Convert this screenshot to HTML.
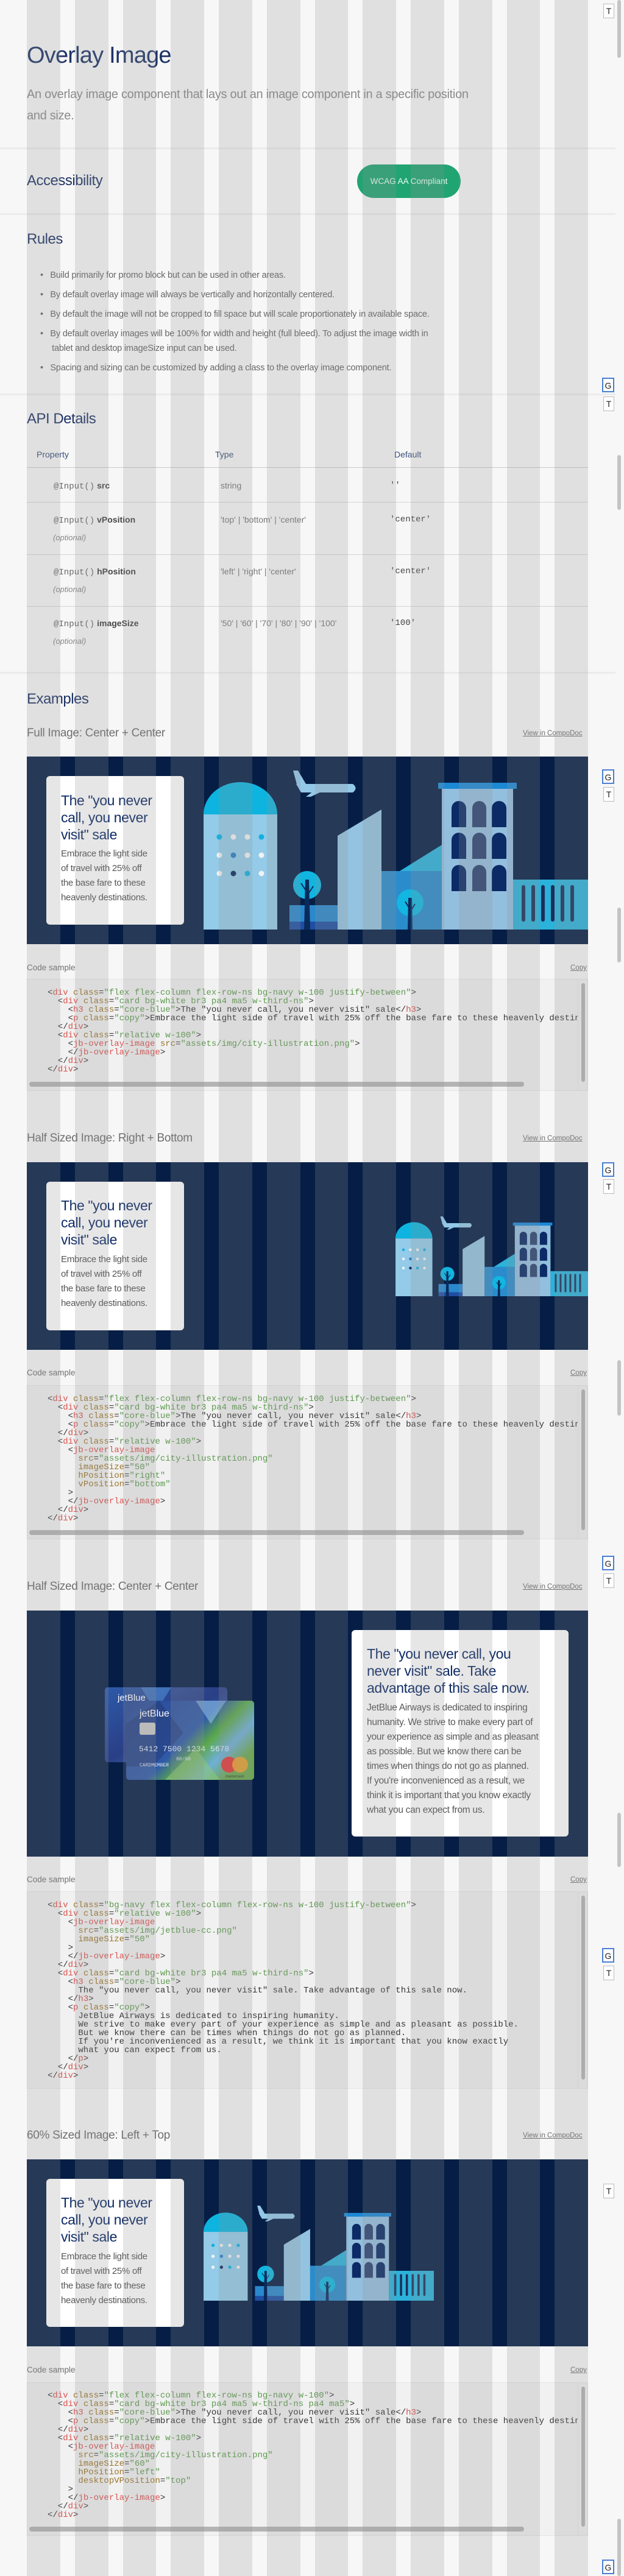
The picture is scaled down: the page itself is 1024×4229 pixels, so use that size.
<!DOCTYPE html>
<html><head><meta charset="utf-8"><style>
*{margin:0;padding:0;box-sizing:border-box}
body{width:1024px;height:4229px;background:#f7f7f7;position:relative;overflow:hidden;font-family:"Liberation Sans",sans-serif}
.a{position:absolute;white-space:nowrap}
.hr{position:absolute;left:0;width:1010px;height:3px;background:#ececec}
.sec{font-size:24px;color:#1d3366;line-height:30px;letter-spacing:-0.5px}
.ex{font-size:19px;color:#6e6e6e;line-height:26px;letter-spacing:-0.3px}
.link{font-size:11.5px;color:#6e6e6e;text-decoration:underline;line-height:18px}
.lbl{font-size:13.5px;color:#707070;line-height:18px}
.banner{position:absolute;left:44px;width:921px;background:#061e45}
.card{position:absolute;background:#fff;border-radius:6px}
.ch{position:absolute;font-size:23px;line-height:28px;color:#0d2a66;white-space:nowrap;letter-spacing:-0.4px}
.cp{position:absolute;font-size:15px;line-height:24px;color:#555;white-space:nowrap;letter-spacing:-0.3px}
.code{position:absolute;left:44px;width:921px;background:#f1f1f1;border:1px solid #e4e4e4;overflow:hidden}
.code pre{font-family:"Liberation Mono",monospace;font-size:14px;line-height:14px;color:#333;padding:15px 0 0 33px;width:904px;overflow:hidden;white-space:pre}
.code b{color:#d9534f;font-weight:normal}.code i{color:#9b7427;font-style:normal}.code u{color:#5d9a4e;text-decoration:none}
.vs{position:absolute;right:0;top:0;width:16px;bottom:0;background:#f1f1f1;border-left:1px solid #e4e4e4}
.vs:after{content:"";position:absolute;left:5px;top:6px;bottom:14px;width:6px;border-radius:3px;background:#b4b4b4}
.hs{position:absolute;left:3px;bottom:6px;width:812px;height:8px;border-radius:4px;background:#b4b4b4}
table{border-collapse:collapse}
.cols{position:absolute;top:0;left:44px;width:921px;height:4229px;display:flex;gap:24px;pointer-events:none;z-index:50}
.cols div{flex:1;background:rgba(146,146,146,0.23)}
.btn{position:absolute;left:990px;width:18px;height:24px;background:#fff;border:1px solid #bbb;font-size:14px;line-height:22px;text-align:center;color:#222}
.btn.g{border:2px solid #4a7fd4;left:988px;width:20px}
.thumb{position:absolute;left:1013px;width:6px;border-radius:3px;background:#c4c4c4}
.m{font-family:"Liberation Mono",monospace;color:#666}
</style></head><body>

<div class="cols"><div></div><div></div><div></div><div></div><div></div><div></div><div></div><div></div><div></div><div></div><div></div><div></div></div>

<div class="a" style="left:44px;top:68px;font-size:38px;line-height:46px;color:#1d3366;letter-spacing:-0.8px">Overlay Image</div>
<div class="a" style="left:44px;top:138px;font-size:20px;line-height:35px;color:#8a8a8a;letter-spacing:-0.3px">An overlay image component that lays out an image component in a specific position<br>and size.</div>
<div class="hr" style="top:242px"></div>
<div class="a sec" style="left:44px;top:282px">Accessibility</div>
<div class="a" style="left:586px;top:270px;width:170px;height:55px;border-radius:28px;background:#20a472;color:#e8fff4;font-size:13.5px;line-height:55px;text-align:center">WCAG AA Compliant</div>
<div class="hr" style="top:350px"></div>
<div class="a sec" style="left:44px;top:378px">Rules</div>
<div class="a" style="left:66px;top:440px;font-size:14.5px;line-height:24px;color:#666;letter-spacing:-0.2px">
<div style="margin-bottom:8px">•&nbsp;&nbsp;&nbsp;Build primarily for promo block but can be used in other areas.</div>
<div style="margin-bottom:8px">•&nbsp;&nbsp;&nbsp;By default overlay image will always be vertically and horizontally centered.</div>
<div style="margin-bottom:8px">•&nbsp;&nbsp;&nbsp;By default the image will not be cropped to fill space but will scale proportionately in available space.</div>
<div style="margin-bottom:8px">•&nbsp;&nbsp;&nbsp;By default overlay images will be 100% for width and height (full bleed). To adjust the image width in<br>&nbsp;&nbsp;&nbsp;&nbsp;&nbsp;tablet and desktop imageSize input can be used.</div>
<div>•&nbsp;&nbsp;&nbsp;Spacing and sizing can be customized by adding a class to the overlay image component.</div>
</div>
<div class="hr" style="top:646px"></div>
<div class="a sec" style="left:44px;top:673px">API Details</div>

<div class="a" style="left:60px;top:736px;font-size:14px;line-height:20px;color:#3a4f7a">Property</div>
<div class="a" style="left:353px;top:736px;font-size:14px;line-height:20px;color:#3a4f7a">Type</div>
<div class="a" style="left:647px;top:736px;font-size:14px;line-height:20px;color:#3a4f7a">Default</div>
<div class="a" style="left:44px;top:767px;width:921px;height:1px;background:#c8c8c8"></div>
<div class="a" style="left:44px;top:824px;width:921px;height:1px;background:#d4d4d4"></div>
<div class="a" style="left:44px;top:910px;width:921px;height:1px;background:#d4d4d4"></div>
<div class="a" style="left:44px;top:995px;width:921px;height:1px;background:#d4d4d4"></div>

<div class="a" style="left:88px;top:787px;font-size:14px;line-height:20px;color:#444"><span class="m">@Input()</span> <b>src</b></div>
<div class="a" style="left:362px;top:787px;font-size:14px;line-height:20px;color:#777">string</div>
<div class="a m" style="left:640px;top:787px;font-size:14px;line-height:20px;color:#444">''</div>

<div class="a" style="left:88px;top:843px;font-size:14px;line-height:20px;color:#444"><span class="m">@Input()</span> <b>vPosition</b></div>
<div class="a" style="left:87px;top:873px;font-size:13px;line-height:20px;color:#888;font-style:italic">(optional)</div>
<div class="a" style="left:362px;top:843px;font-size:14px;line-height:20px;color:#777">'top' | 'bottom' | 'center'</div>
<div class="a m" style="left:640px;top:843px;font-size:14px;line-height:20px;color:#444">'center'</div>

<div class="a" style="left:88px;top:928px;font-size:14px;line-height:20px;color:#444"><span class="m">@Input()</span> <b>hPosition</b></div>
<div class="a" style="left:87px;top:958px;font-size:13px;line-height:20px;color:#888;font-style:italic">(optional)</div>
<div class="a" style="left:362px;top:928px;font-size:14px;line-height:20px;color:#777">'left' | 'right' | 'center'</div>
<div class="a m" style="left:640px;top:928px;font-size:14px;line-height:20px;color:#444">'center'</div>

<div class="a" style="left:88px;top:1013px;font-size:14px;line-height:20px;color:#444"><span class="m">@Input()</span> <b>imageSize</b></div>
<div class="a" style="left:87px;top:1043px;font-size:13px;line-height:20px;color:#888;font-style:italic">(optional)</div>
<div class="a" style="left:362px;top:1013px;font-size:14px;line-height:20px;color:#777">'50' | '60' | '70' | '80' | '90' | '100'</div>
<div class="a m" style="left:640px;top:1013px;font-size:14px;line-height:20px;color:#444">'100'</div>

<div class="hr" style="top:1103px"></div>
<div class="a sec" style="left:44px;top:1133px">Examples</div>

<!-- Example 1 -->
<div class="a ex" style="left:44px;top:1191px">Full Image: Center + Center</div>
<div class="a link" style="left:858px;top:1195px">View in CompoDoc</div>
<div class="banner" style="top:1242px;height:308px"></div>
<div class="card" style="left:76px;top:1274px;width:226px;height:244px"></div>
<div class="ch" style="left:100px;top:1300px">The "you never<br>call, you never<br>visit" sale</div>
<div class="cp" style="left:100px;top:1390px">Embrace the light side<br>of travel with 25% off<br>the base fare to these<br>heavenly destinations.</div>
<svg class="a" style="left:334px;top:1265px" width="631" height="261" viewBox="0 0 631 261" preserveAspectRatio="none">
<g id="city">
<path d="M0 72 A60.5 53 0 0 1 121 72 Z" fill="#0db4df"/>
<rect x="0" y="72" width="121" height="189" fill="#93cbe8"/>
<g fill="#f2f2f2"><circle cx="49" cy="109" r="4.5"/><circle cx="72" cy="109" r="4.5"/><circle cx="26" cy="139" r="4.5"/><circle cx="72" cy="139" r="4.5"/><circle cx="95" cy="139" r="4.5"/><circle cx="26" cy="169" r="4.5"/><circle cx="95" cy="169" r="4.5"/></g>
<g fill="#10b0e0"><circle cx="26" cy="109" r="4.5"/><circle cx="95" cy="109" r="4.5"/><circle cx="72" cy="169" r="4.5"/></g>
<circle cx="49" cy="139" r="4.5" fill="#2a7fc4"/><circle cx="49" cy="169" r="4.5" fill="#0e2a60"/>
<path d="M152 22 L245 22 Q254 29 245 36 L160 36 Z" fill="#93c8e8"/>
<path d="M147 0 L155 0 L168 22 L154 26 Z" fill="#93c8e8"/>
<path d="M180 34 L195 34 L176 43 L168 43 Z" fill="#93c8e8"/>
<rect x="141" y="221" width="79" height="40" fill="#2a88cc"/>
<rect x="141" y="248" width="79" height="13" fill="#1f4ea2"/>
<circle cx="170" cy="188" r="23" fill="#10b5e0"/>
<path d="M168 180 L172 180 L174 261 L166 261 Z M170 200 L160 185 M170 205 L180 190" stroke="#0a2a5c" stroke-width="2" fill="#0a2a5c"/>
<polygon points="220,107 292,64 292,261 220,261" fill="#93c3e0"/>
<rect x="292" y="165" width="99" height="96" fill="#2b8ccc"/>
<polygon points="322,165 391,122 391,165" fill="#2db2da"/>
<circle cx="339" cy="217" r="22" fill="#12b6e0"/>
<path d="M337 210 L341 210 L342 261 L336 261 Z M339 228 L331 215 M339 232 L347 219" stroke="#0a2a5c" stroke-width="2" fill="#0a2a5c"/>
<rect x="391" y="30" width="117" height="231" fill="#93bfde"/>
<rect x="385" y="20" width="129" height="10" fill="#1b88d4"/>
<g fill="#0b2a66">
<path d="M407 93 V62 A12 12 0 0 1 431 62 V93Z"/><path d="M473 93 V62 A12 12 0 0 1 497 62 V93Z"/>
<path d="M407 145 V114 A12 12 0 0 1 431 114 V145Z"/><path d="M473 145 V114 A12 12 0 0 1 497 114 V145Z"/>
<path d="M407 198 V167 A12 12 0 0 1 431 167 V198Z"/><path d="M473 198 V167 A12 12 0 0 1 497 167 V198Z"/></g>
<g fill="#2b4372">
<path d="M441 93 V62 A11.5 12 0 0 1 464 62 V93Z"/><path d="M441 145 V114 A11.5 12 0 0 1 464 114 V145Z"/><path d="M441 198 V167 A11.5 12 0 0 1 464 167 V198Z"/></g>
<rect x="508" y="179" width="123" height="82" fill="#2bb2da"/>
<g fill="#1a2f5a"><rect x="522" y="188" width="6" height="60" rx="3"/><rect x="538" y="188" width="6" height="60" rx="3"/><rect x="554" y="188" width="6" height="60" rx="3"/><rect x="570" y="188" width="6" height="60" rx="3"/><rect x="586" y="188" width="6" height="60" rx="3"/><rect x="602" y="188" width="6" height="60" rx="3"/></g>
</g></svg>
<div class="lbl a" style="left:44px;top:1580px">Code sample</div>
<div class="link a" style="left:936px;top:1580px">Copy</div>
<div class="code" style="top:1607px;height:184px"><pre>&lt;<b>div</b> <i>class</i>=<u>"flex flex-column flex-row-ns bg-navy w-100 justify-between"</u>&gt;
  &lt;<b>div</b> <i>class</i>=<u>"card bg-white br3 pa4 ma5 w-third-ns"</u>&gt;
    &lt;<b>h3</b> <i>class</i>=<u>"core-blue"</u>&gt;The "you never call, you never visit" sale&lt;/<b>h3</b>&gt;
    &lt;<b>p</b> <i>class</i>=<u>"copy"</u>&gt;Embrace the light side of travel with 25% off the base fare to these heavenly destinations.&lt;/<b>p</b>&gt;
  &lt;/<b>div</b>&gt;
  &lt;<b>div</b> <i>class</i>=<u>"relative w-100"</u>&gt;
    &lt;<b>jb-overlay-image</b> <i>src</i>=<u>"assets/img/city-illustration.png"</u>&gt;
    &lt;/<b>jb-overlay-image</b>&gt;
  &lt;/<b>div</b>&gt;
&lt;/<b>div</b>&gt;</pre><div class="vs"></div><div class="hs"></div></div>

<!-- Example 2 -->
<div class="a ex" style="left:44px;top:1856px">Half Sized Image: Right + Bottom</div>
<div class="a link" style="left:858px;top:1860px">View in CompoDoc</div>
<div class="banner" style="top:1908px;height:308px"></div>
<div class="card" style="left:76px;top:1940px;width:226px;height:244px"></div>
<div class="ch" style="left:100px;top:1965px">The "you never<br>call, you never<br>visit" sale</div>
<div class="cp" style="left:100px;top:2056px">Embrace the light side<br>of travel with 25% off<br>the base fare to these<br>heavenly destinations.</div>
<svg class="a" style="left:649px;top:1997px" width="316" height="131" viewBox="0 0 631 261" preserveAspectRatio="none"><use href="#city"/></svg>
<div class="lbl a" style="left:44px;top:2245px">Code sample</div>
<div class="link a" style="left:936px;top:2245px">Copy</div>
<div class="code" style="top:2274px;height:253px"><pre>&lt;<b>div</b> <i>class</i>=<u>"flex flex-column flex-row-ns bg-navy w-100 justify-between"</u>&gt;
  &lt;<b>div</b> <i>class</i>=<u>"card bg-white br3 pa4 ma5 w-third-ns"</u>&gt;
    &lt;<b>h3</b> <i>class</i>=<u>"core-blue"</u>&gt;The "you never call, you never visit" sale&lt;/<b>h3</b>&gt;
    &lt;<b>p</b> <i>class</i>=<u>"copy"</u>&gt;Embrace the light side of travel with 25% off the base fare to these heavenly destinations.&lt;/<b>p</b>&gt;
  &lt;/<b>div</b>&gt;
  &lt;<b>div</b> <i>class</i>=<u>"relative w-100"</u>&gt;
    &lt;<b>jb-overlay-image</b>
      <i>src</i>=<u>"assets/img/city-illustration.png"</u>
      <i>imageSize</i>=<u>"50"</u>
      <i>hPosition</i>=<u>"right"</u>
      <i>vPosition</i>=<u>"bottom"</u>
    &gt;
    &lt;/<b>jb-overlay-image</b>&gt;
  &lt;/<b>div</b>&gt;
&lt;/<b>div</b>&gt;</pre><div class="vs"></div><div class="hs"></div></div>

<!-- Example 3 -->
<div class="a ex" style="left:44px;top:2592px">Half Sized Image: Center + Center</div>
<div class="a link" style="left:858px;top:2596px">View in CompoDoc</div>
<div class="banner" style="top:2644px;height:404px"></div>
<svg class="a" style="left:171px;top:2770px" width="247" height="152" viewBox="0 0 247 152">
<defs><linearGradient id="cg1" x1="0" y1="0" x2="1" y2="1"><stop offset="0" stop-color="#2d5aa8"/><stop offset="0.5" stop-color="#2a3f86"/><stop offset="1" stop-color="#3a78c0"/></linearGradient>
<linearGradient id="cg2" x1="0" y1="0" x2="1" y2="0.6"><stop offset="0" stop-color="#2c4a96"/><stop offset="0.55" stop-color="#2f5aa8"/><stop offset="0.7" stop-color="#5aa84a"/><stop offset="0.85" stop-color="#6fb0d8"/><stop offset="1" stop-color="#6aa84e"/></linearGradient></defs>
<rect x="1" y="0" width="201" height="123" rx="5" fill="url(#cg1)"/>
<polygon points="60,0 110,0 85,40" fill="#4f8ad0" opacity=".6"/>
<text x="22" y="22" font-family="Liberation Sans,sans-serif" font-size="15" fill="#fff">jetBlue</text>
<rect x="36" y="22" width="210" height="130" rx="5" fill="url(#cg2)"/>
<polygon points="36,60 90,22 130,75 80,130 36,130" fill="#243a78" opacity=".55"/>
<polygon points="150,22 200,22 175,60" fill="#9fd0f0" opacity=".5"/>
<polygon points="100,152 150,100 190,152" fill="#8bc67a" opacity=".6"/>
<text x="58" y="48" font-family="Liberation Sans,sans-serif" font-size="16" fill="#fff">jetBlue</text>
<rect x="58" y="58" width="26" height="20" rx="3" fill="#c8c8c8"/>
<text x="57" y="105" font-family="Liberation Mono,monospace" font-size="13" fill="#dfe6f0">5412 7500 1234 5678</text>
<text x="58" y="130" font-family="Liberation Mono,monospace" font-size="8" fill="#dfe6f0">CARDMEMBER</text>
<text x="118" y="120" font-family="Liberation Mono,monospace" font-size="8" fill="#dfe6f0">00/00</text>
<circle cx="205" cy="127" r="13" fill="#e23a3a"/><circle cx="223" cy="127" r="13" fill="#f0a030" opacity=".9"/>
<text x="199" y="148" font-family="Liberation Sans,sans-serif" font-size="6" fill="#333">mastercard</text>
</svg>
<div class="card" style="left:577px;top:2676px;width:356px;height:339px"></div>
<div class="ch" style="left:602px;top:2701px">The "you never call, you<br>never visit" sale. Take<br>advantage of this sale now.</div>
<div class="cp" style="left:602px;top:2792px;font-size:15.5px">JetBlue Airways is dedicated to inspiring<br>humanity. We strive to make every part of<br>your experience as simple and as pleasant<br>as possible. But we know there can be<br>times when things do not go as planned.<br>If you're inconvenienced as a result, we<br>think it is important that you know exactly<br>what you can expect from us.</div>
<div class="lbl a" style="left:44px;top:3077px">Code sample</div>
<div class="link a" style="left:936px;top:3077px">Copy</div>
<div class="code" style="top:3105px;height:324px"><pre>&lt;<b>div</b> <i>class</i>=<u>"bg-navy flex flex-column flex-row-ns w-100 justify-between"</u>&gt;
  &lt;<b>div</b> <i>class</i>=<u>"relative w-100"</u>&gt;
    &lt;<b>jb-overlay-image</b>
      <i>src</i>=<u>"assets/img/jetblue-cc.png"</u>
      <i>imageSize</i>=<u>"50"</u>
    &gt;
    &lt;/<b>jb-overlay-image</b>&gt;
  &lt;/<b>div</b>&gt;
  &lt;<b>div</b> <i>class</i>=<u>"card bg-white br3 pa4 ma5 w-third-ns"</u>&gt;
    &lt;<b>h3</b> <i>class</i>=<u>"core-blue"</u>&gt;
      The "you never call, you never visit" sale. Take advantage of this sale now.
    &lt;/<b>h3</b>&gt;
    &lt;<b>p</b> <i>class</i>=<u>"copy"</u>&gt;
      JetBlue Airways is dedicated to inspiring humanity.
      We strive to make every part of your experience as simple and as pleasant as possible.
      But we know there can be times when things do not go as planned.
      If you're inconvenienced as a result, we think it is important that you know exactly
      what you can expect from us.
    &lt;/<b>p</b>&gt;
  &lt;/<b>div</b>&gt;
&lt;/<b>div</b>&gt;</pre><div class="vs"></div></div>

<!-- Example 4 -->
<div class="a ex" style="left:44px;top:3493px">60% Sized Image: Left + Top</div>
<div class="a link" style="left:858px;top:3497px">View in CompoDoc</div>
<div class="banner" style="top:3545px;height:307px"></div>
<div class="card" style="left:76px;top:3577px;width:226px;height:243px"></div>
<div class="ch" style="left:100px;top:3602px">The "you never<br>call, you never<br>visit" sale</div>
<div class="cp" style="left:100px;top:3693px">Embrace the light side<br>of travel with 25% off<br>the base fare to these<br>heavenly destinations.</div>
<svg class="a" style="left:334px;top:3621px" width="378" height="156" viewBox="0 0 631 261" preserveAspectRatio="none"><use href="#city"/></svg>
<div class="lbl a" style="left:44px;top:3882px">Code sample</div>
<div class="link a" style="left:936px;top:3882px">Copy</div>
<div class="code" style="top:3911px;height:252px"><pre style="padding-top:14px">&lt;<b>div</b> <i>class</i>=<u>"flex flex-column flex-row-ns bg-navy w-100"</u>&gt;
  &lt;<b>div</b> <i>class</i>=<u>"card bg-white br3 pa4 ma5 w-third-ns pa4 ma5"</u>&gt;
    &lt;<b>h3</b> <i>class</i>=<u>"core-blue"</u>&gt;The "you never call, you never visit" sale&lt;/<b>h3</b>&gt;
    &lt;<b>p</b> <i>class</i>=<u>"copy"</u>&gt;Embrace the light side of travel with 25% off the base fare to these heavenly destinations.&lt;/<b>p</b>&gt;
  &lt;/<b>div</b>&gt;
  &lt;<b>div</b> <i>class</i>=<u>"relative w-100"</u>&gt;
    &lt;<b>jb-overlay-image</b>
      <i>src</i>=<u>"assets/img/city-illustration.png"</u>
      <i>imageSize</i>=<u>"60"</u>
      <i>hPosition</i>=<u>"left"</u>
      <i>desktopVPosition</i>=<u>"top"</u>
    &gt;
    &lt;/<b>jb-overlay-image</b>&gt;
  &lt;/<b>div</b>&gt;
&lt;/<b>div</b>&gt;</pre><div class="vs"></div><div class="hs"></div></div>

<!-- right side controls -->
<div class="btn" style="top:6px">T</div>
<div class="btn g" style="top:620px">G</div>
<div class="btn" style="top:651px">T</div>
<div class="btn g" style="top:1263px">G</div>
<div class="btn" style="top:1292px">T</div>
<div class="btn g" style="top:1908px">G</div>
<div class="btn" style="top:1936px">T</div>
<div class="btn g" style="top:2554px">G</div>
<div class="btn" style="top:2583px">T</div>
<div class="btn g" style="top:3198px">G</div>
<div class="btn" style="top:3227px">T</div>
<div class="btn" style="top:3585px">T</div>
<div class="btn g" style="top:4202px">G</div>
<div class="thumb" style="top:0;height:95px"></div>
<div class="thumb" style="top:747px;height:90px"></div>
<div class="thumb" style="top:1490px;height:90px"></div>
<div class="thumb" style="top:2233px;height:91px"></div>
<div class="thumb" style="top:2976px;height:89px"></div>
<div class="thumb" style="top:4135px;height:94px"></div>
</body></html>
